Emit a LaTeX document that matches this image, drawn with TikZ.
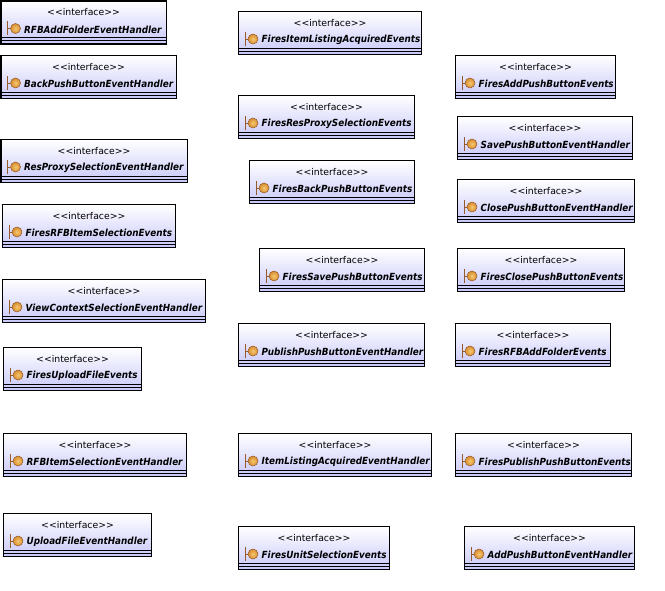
\documentclass[tikz,border=0pt]{standalone}
\usepackage{fontspec}
\setmainfont{DejaVu Sans}
\newfontfamily\ifacefont[FakeStretch=0.9,BoldFont={DejaVu Sans Bold},BoldItalicFont={DejaVu Sans Bold Oblique}]{DejaVu Sans}
\usepackage{tikz}
\usetikzlibrary{calc}
\definecolor{ifaceblue}{RGB}{200,200,250}
\definecolor{ballorange}{RGB}{215,140,50}
\definecolor{balllight}{RGB}{245,200,110}
\definecolor{stembrown}{RGB}{150,90,40}
\tikzset{
  ifacebody/.style={
    draw=black,
    line width=1.1pt,
    rectangle,
    anchor=north west,
    top color=white,
    bottom color=ifaceblue,
    minimum height=43pt,
    inner sep=0pt
  },
  stereo/.style={
    font=\fontsize{9.3}{11}\selectfont,
    inner sep=0pt
  },
  ifacename/.style={
    font=\fontsize{9.8}{12}\ifacefont\bfseries\itshape,
    anchor=west,
    inner sep=0pt
  },
  sepline/.style={
    line width=0.9pt
  },
  stem/.style={
    draw=stembrown,
    line width=0.8pt
  },
  ball/.style={
    circle,
    draw=stembrown,
    line width=0.5pt,
    inner color=balllight,
    outer color=ballorange,
    minimum size=10pt,
    inner sep=0pt
  }
}
% name, left, top, width, label
\newcommand{\ifacebox}[5]{
  \node[ifacebody, minimum width=#4pt] (#1) at (#2,#3) {};
  \node[stereo] (#1st) at ($(#1.north)+(0,12)$) {<{}<interface>{}>};
  \node[ifacename] (#1nm) at ($(#1.north west)+(23.5,29)$) {#5};
  \coordinate (#1a) at ($(#1.north west)+(0,37)$);
  \coordinate (#1b) at ($(#1.north east)+(0,37)$);
  \coordinate (#1c) at ($(#1.north west)+(0,40)$);
  \coordinate (#1d) at ($(#1.north east)+(0,40)$);
  \draw[sepline] (#1a) -- (#1b);
  \draw[sepline] (#1c) -- (#1d);
  \coordinate (#1t) at ($(#1.north west)+(7,21)$);
  \coordinate (#1u) at ($(#1.north west)+(7,35)$);
  \coordinate (#1v) at ($(#1.north west)+(7,28)$);
  \node[ball] (#1ic) at ($(#1.north west)+(15,28)$) {};
  \draw[stem] (#1t) -- (#1u);
  \draw[stem] (#1v) -- (#1ic);
}

\begin{document}
\begin{tikzpicture}[x=1pt,y=-1pt]
\useasboundingbox (0,0) rectangle (665,591);

% left column
\ifacebox{addfolderh}{0.5}{0.5}{165}{RFBAddFolderEventHandler}
\ifacebox{backh}{0.5}{55}{175}{BackPushButtonEventHandler}
\ifacebox{resproxyh}{0.5}{139}{186}{ResProxySelectionEventHandler}
\ifacebox{itemselev}{2}{204}{173}{FiresRFBItemSelectionEvents}
\ifacebox{viewctxh}{2}{279}{203}{ViewContextSelectionEventHandler}
\ifacebox{uploadev}{3}{347}{138}{FiresUploadFileEvents}
\ifacebox{itemselh}{3}{433}{183}{RFBItemSelectionEventHandler}
\ifacebox{uploadh}{3}{513}{148}{UploadFileEventHandler}

% middle column
\ifacebox{listingev}{238}{11}{183}{FiresItemListingAcquiredEvents}
\ifacebox{resproxyev}{238}{95}{176}{FiresResProxySelectionEvents}
\ifacebox{backev}{249}{160}{165}{FiresBackPushButtonEvents}
\ifacebox{saveev}{259}{248}{165}{FiresSavePushButtonEvents}
\ifacebox{publishh}{238}{323}{186}{PublishPushButtonEventHandler}
\ifacebox{listingh}{238}{433}{193}{ItemListingAcquiredEventHandler}
\ifacebox{unitev}{238}{526}{151}{FiresUnitSelectionEvents}

% right column
\ifacebox{addev}{455}{55}{160}{FiresAddPushButtonEvents}
\ifacebox{saveh}{457}{116}{175}{SavePushButtonEventHandler}
\ifacebox{closeh}{457}{179}{177}{ClosePushButtonEventHandler}
\ifacebox{closeev}{457}{248}{167}{FiresClosePushButtonEvents}
\ifacebox{addfolderev}{455}{323}{155}{FiresRFBAddFolderEvents}
\ifacebox{publishev}{455}{433}{176}{FiresPublishPushButtonEvents}
\ifacebox{addh}{464}{526}{170}{AddPushButtonEventHandler}

\end{tikzpicture}
\end{document}
